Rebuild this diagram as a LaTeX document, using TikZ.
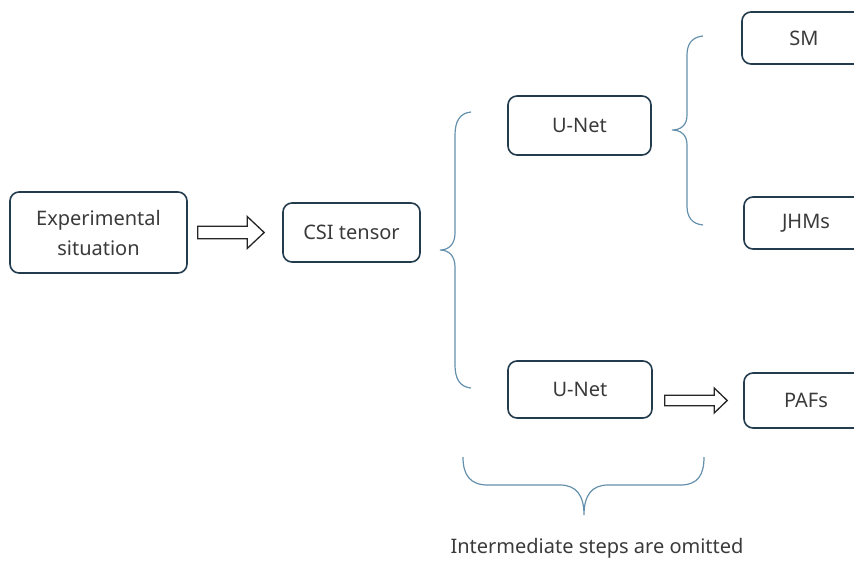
\documentclass[tikz,border=0pt]{standalone}
\usepackage{fontspec}
\setmainfont{Noto Sans}
\usetikzlibrary{calc}

\definecolor{boxc}{HTML}{223B4D}
\definecolor{bracec}{HTML}{6490AD}
\definecolor{txtc}{HTML}{3A3A3A}

\begin{document}
\begin{tikzpicture}[x=1pt,y=-1pt,
  main node/.style={draw=boxc, line width=1.6pt, rounded corners=9pt, text=txtc, font=\fontsize{20}{30}\selectfont, align=center, inner sep=0pt},
  brace line/.style={draw=bracec, line width=1.2pt},
  hollow arrow/.style n args={3}{draw=black!85, line width=1.3pt, fill=white, line join=miter,
    to path={let \p1=(\tikztostart), \p2=(\tikztotarget) in
      (\x1,\y2+#1) -- (\x2-#3,\y2+#1) -- (\x2-#3,\y2+#2) -- (\x2,\y2)
      -- (\x2-#3,\y2-#2) -- (\x2-#3,\y2-#1) -- (\x1,\y2-#1) -- cycle}}]

  \useasboundingbox (0,0) rectangle (854,560);
  \clip (0,0) rectangle (854,560);

  \node[main node, minimum width=177pt, minimum height=81pt] (exp) at (98.5,232.5) {Experimental\\situation};
  \node[main node, minimum width=137pt, minimum height=59pt] (csi) at (351.5,232.5) {CSI tensor};
  \node[main node, minimum width=143pt, minimum height=59pt] (unet1) at (579.5,125.5) {U-Net};
  \node[main node, minimum width=144pt, minimum height=57pt] (unet2) at (580,389.5) {U-Net};
  \node[main node, minimum width=124pt, minimum height=52pt] (sm) at (804,38) {SM};
  \node[main node, minimum width=124pt, minimum height=52pt] (jhm) at (806,223) {JHMs};
  \node[main node, minimum width=124pt, minimum height=55pt] (paf) at (806,400.5) {PAFs};

  \node[text=txtc, font=\fontsize{20}{24}\selectfont] (omit) at (597,548) {Intermediate steps are omitted};

  % hollow arrows
  \draw[hollow arrow={6.3pt}{16pt}{17pt}] ([xshift=10pt]exp.east) to ([xshift=-18pt]csi.west);
  \draw[hollow arrow={5.3pt}{12.5pt}{13pt}] ([xshift=12pt]unet2.east) to ([xshift=-16pt]paf.west);

  % braces
  \draw[brace line] (471,112) .. controls (460,113) and (455,121) .. (455,135) -- (455,233)
    .. controls (455,244) and (449,250) .. (440,250) .. controls (449,250) and (455,256) .. (455,267)
    -- (455,365) .. controls (455,379) and (460,387) .. (471,388);
  \draw[brace line] (703,36) .. controls (692,37) and (687,44) .. (687,55) -- (687,115)
    .. controls (687,125) and (681,130) .. (672,130) .. controls (681,130) and (687,135) .. (687,145)
    -- (687,206) .. controls (687,217) and (692,224) .. (703,225);
  \draw[brace line] (463,457) .. controls (463,475) and (470,485) .. (488,485) -- (560,485)
    .. controls (576,485) and (584,495) .. (584,515) .. controls (584,495) and (592,485) .. (608,485)
    -- (680,485) .. controls (698,485) and (704,475) .. (704,457);
\end{tikzpicture}
\end{document}
